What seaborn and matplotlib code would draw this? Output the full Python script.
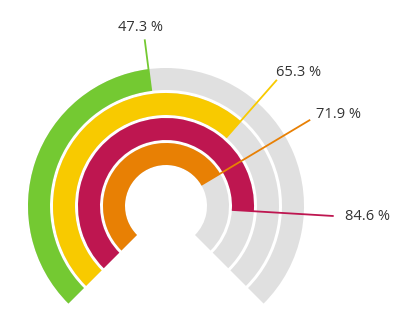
import numpy as np
import matplotlib
matplotlib.use("Agg")
import matplotlib.pyplot as plt
import seaborn as sns

# Gauge values, outermost ring first
series = ["Green", "Yellow", "Crimson", "Orange"]
values = [47.3, 65.3, 84.6, 71.9]
labels = ["47.3 %", "65.3 %", "84.6 %", "71.9 %"]
colors = ["#74c932", "#f8ca00", "#be1650", "#e88004"]

sns.set_theme(style="white")
plt.rcParams["font.family"] = ["Open Sans", "DejaVu Sans"]

W, H, DPI = 420, 331, 100
fig = plt.figure(figsize=(W / DPI, H / DPI), dpi=DPI)

# polar axes laid out in pixel units: radius 1 unit == 1 px
R = 230
cx, cy = 166, 206
ax = fig.add_axes([(cx - R) / W, (H - cy - R) / H, 2 * R / W, 2 * R / H],
                  projection="polar")
ax.set_theta_offset(np.deg2rad(225))
ax.set_theta_direction(-1)
ax.set_rlim(0, R)
ax.set_axis_off()
ax.patch.set_alpha(0)

SPAN = 1.5 * np.pi          # 270 degree gauge
thick, step, inner0 = 22, 25, 41
track = "#e0e0e0"
lead_r = 168

# label offsets in pixels from the leader end
offsets = [(-4, 12, "center"), (-1, 7, "left"), (11, 0, "left"), (6, 5, "left")]

n = len(values)
for i, (v, c, lab) in enumerate(zip(values, colors, labels)):
    r_in = inner0 + (n - 1 - i) * step
    ax.barh(r_in, SPAN, left=0, height=thick, align="edge",
            color=track, linewidth=0)
    th = v / 100 * SPAN
    ax.barh(r_in, th, left=0, height=thick, align="edge",
            color=c, linewidth=0)
    ax.plot([th, th], [r_in, lead_r], color=c, lw=1.3, clip_on=False,
            solid_capstyle="butt")
    dx, dy, ha = offsets[i]
    ax.annotate(lab, xy=(th, lead_r), xytext=(dx, dy),
                textcoords="offset pixels", ha=ha, va="center",
                fontsize=10.5, color="#333333", annotation_clip=False)

fig.savefig("out.png", dpi=DPI, facecolor="white")
